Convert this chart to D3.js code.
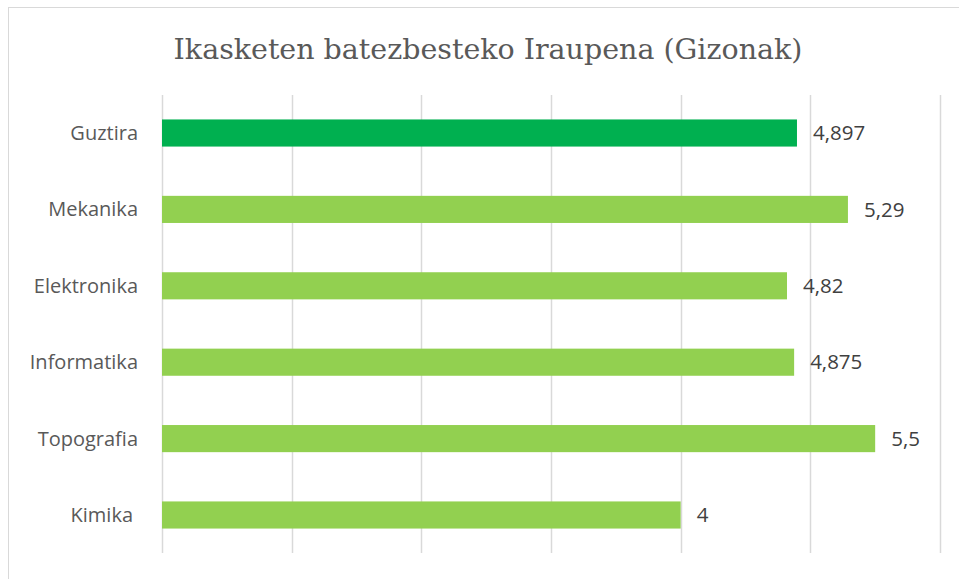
<!DOCTYPE html>
<html>
<head>
<meta charset="utf-8">
<script src="https://cdn.jsdelivr.net/npm/d3@7"></script>
<style>
  body { margin: 0; background: #fff; }
  svg { display: block; }
</style>
</head>
<body>
<div id="chart"></div>
<script>
// datuak
const categories = ["Guztira", "Mekanika", "Elektronika", "Informatika", "Topografia", "Kimika"];
const values = [4.897, 5.29, 4.82, 4.875, 5.5, 4];
const valueLabels = ["4,897", "5,29", "4,82", "4,875", "5,5", "4"];
const xTicks = [0, 1, 2, 3, 4, 5, 6];
const title = "Ikasketen batezbesteko Iraupena (Gizonak)";

const width = 959, height = 579;
const margin = { top: 95, right: 19, bottom: 26, left: 162 };

const svg = d3.select("#chart").append("svg")
  .attr("width", width)
  .attr("height", height);

// kanpoko markoa
svg.append("rect")
  .attr("x", 8.5).attr("y", 7.5)
  .attr("width", 1000).attr("height", 1000)
  .attr("fill", "none")
  .attr("stroke", "#d9d9d9");

svg.append("text")
  .attr("x", 488).attr("y", 59)
  .attr("text-anchor", "middle")
  .style("font-family", "'DejaVu Serif', serif")
  .style("font-size", "28.5px")
  .attr("fill", "#595959")
  .text(title);

const x = d3.scaleLinear().domain([0, 6]).range([margin.left, width - margin.right]);
const y = d3.scaleBand().domain(categories)
  .range([margin.top, height - margin.bottom])
  .paddingInner(0.645).paddingOuter(0.32);

const g = svg.append("g");

// sareta
g.selectAll(".grid")
  .data(xTicks)
  .enter().append("line")
  .attr("class", "grid")
  .attr("x1", d => Math.round(x(d)) + 0.5)
  .attr("x2", d => Math.round(x(d)) + 0.5)
  .attr("y1", margin.top)
  .attr("y2", height - margin.bottom)
  .attr("stroke", "#d9d9d9")
  .attr("stroke-width", 1.5);

g.selectAll(".bar")
  .data(categories)
  .enter().append("rect")
  .attr("class", "bar")
  .attr("x", x(0))
  .attr("y", d => y(d))
  .attr("width", (d, i) => x(values[i]) - x(0))
  .attr("height", y.bandwidth())
  .attr("fill", (d, i) => i === 0 ? "#00b050" : "#92d050");

g.selectAll(".cat")
  .data(categories)
  .enter().append("text")
  .attr("class", "cat")
  .attr("x", d => d === "Kimika" ? 133 : 138)
  .attr("y", d => y(d) + y.bandwidth() / 2)
  .attr("dy", "0.35em")
  .attr("text-anchor", "end")
  .style("font-family", "'Open Sans', sans-serif")
  .style("font-size", "20px")
  .attr("fill", "#595959")
  .text(d => d);

g.selectAll(".val")
  .data(categories)
  .enter().append("text")
  .attr("class", "val")
  .attr("x", (d, i) => x(values[i]) + 16)
  .attr("y", d => y(d) + y.bandwidth() / 2)
  .attr("dy", "0.35em")
  .style("font-family", "'Open Sans', sans-serif")
  .style("font-size", "20.5px")
  .attr("fill", "#404040")
  .text((d, i) => valueLabels[i]);
</script>
</body>
</html>
